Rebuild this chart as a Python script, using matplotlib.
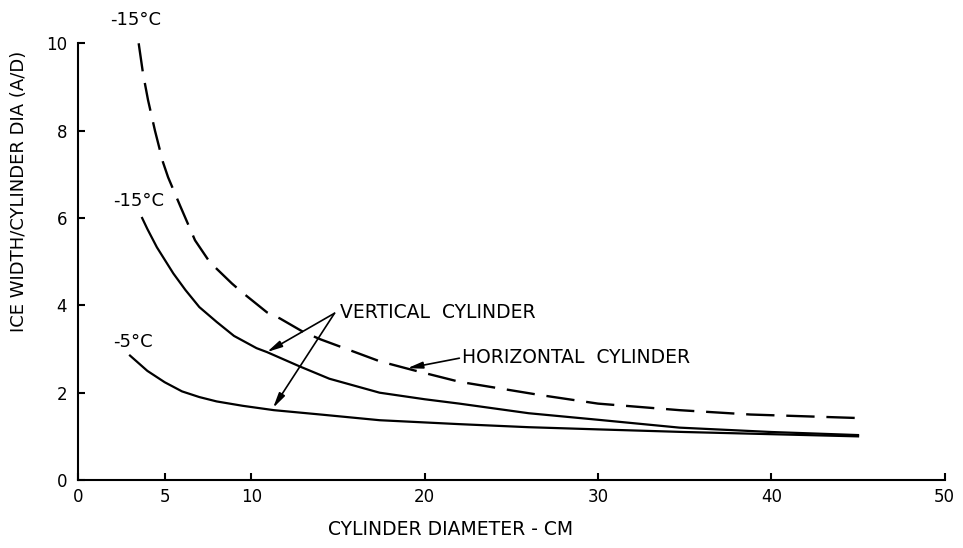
import numpy as np
import matplotlib
matplotlib.use("Agg")
import matplotlib.pyplot as plt

# horizontal cylinder, -15 C (dashed)
horiz_15_x = [3.5, 3.75, 4.04, 4.44, 4.9, 5.2, 5.88, 6.75, 7.6, 8.88, 9.46, 10.9, 11.65, 13.0, 14.0,
              15.5, 17.4, 19.3, 22.0, 26.6, 30.0, 34.7, 38.8, 45.0]
horiz_15_y = [10.0, 9.31, 8.7, 8.0, 7.28, 6.93, 6.29, 5.49, 4.99, 4.5, 4.3, 3.84, 3.7, 3.39, 3.22,
              3.0, 2.72, 2.52, 2.25, 1.95, 1.75, 1.6, 1.5, 1.42]

# vertical cylinder, -15 C
vert_15_x = [3.7, 4.0, 4.55, 5.5, 6.2, 7.0, 8.0, 9.0, 10.3, 10.9, 12.8, 14.5, 17.4, 20.0, 22.0,
             26.0, 30.0, 34.7, 40.0, 45.0]
vert_15_y = [6.0, 5.75, 5.33, 4.73, 4.35, 3.96, 3.62, 3.3, 3.02, 2.93, 2.6, 2.32, 2.0, 1.85, 1.75,
             1.53, 1.38, 1.2, 1.1, 1.03]

# vertical cylinder, -5 C
vert_5_x = [3.0, 4.0, 5.0, 6.0, 7.0, 8.0, 9.5, 11.3, 14.0, 17.4, 22.0, 26.0, 30.0, 35.0, 40.0, 45.0]
vert_5_y = [2.85, 2.5, 2.24, 2.03, 1.9, 1.8, 1.7, 1.6, 1.5, 1.37, 1.28, 1.21, 1.16, 1.1, 1.05, 1.0]

x_ticks = [0, 5, 10, 20, 30, 40, 50]
y_ticks = [0, 2, 4, 6, 8, 10]

fig = plt.figure(figsize=(9.63, 5.48), dpi=100)
ax = fig.add_axes([0.081, 0.124, 0.9, 0.797])

ax.plot(horiz_15_x, horiz_15_y, color='black', lw=1.7, dashes=(12, 5))
ax.plot(vert_15_x, vert_15_y, color='black', lw=1.6)
ax.plot(vert_5_x, vert_5_y, color='black', lw=1.6)

ax.set_xlim(0, 50)
ax.set_ylim(0, 10)
ax.set_xticks(x_ticks)
ax.set_yticks(y_ticks)
ax.spines['top'].set_visible(False)
ax.spines['right'].set_visible(False)
for s in ['left', 'bottom']:
    ax.spines[s].set_linewidth(1.5)
ax.tick_params(direction='in', length=5, width=1.5, labelsize=12)
ax.tick_params(axis='x', pad=6)
ax.tick_params(axis='y', pad=8)

ax.set_xlabel('CYLINDER DIAMETER - CM', fontsize=13.5)
ax.set_ylabel('ICE WIDTH/CYLINDER DIA (A/D)', fontsize=13)
ax.xaxis.set_label_coords(0.43, -0.092)
ax.yaxis.set_label_coords(-0.058, 0.66)

# curve labels
ax.text(1.85, 10.53, '-15°C', fontsize=13, va='center', clip_on=False)
ax.text(2.0, 6.4, '-15°C', fontsize=13, va='center')
ax.text(2.0, 3.16, '-5°C', fontsize=13, va='center')

# annotations
arrow = dict(arrowstyle='-|>,head_length=0.9,head_width=0.2', color='black', lw=1.2,
             shrinkA=0, shrinkB=0)
ax.annotate('', xy=(10.9, 2.93), xytext=(14.8, 3.82), arrowprops=arrow)
ax.annotate('', xy=(11.25, 1.65), xytext=(14.8, 3.82), arrowprops=arrow)
ax.text(15.1, 3.84, 'VERTICAL  CYLINDER', fontsize=13.5, va='center')
ax.annotate('', xy=(19.0, 2.56), xytext=(22.0, 2.79), arrowprops=arrow)
ax.text(22.15, 2.81, 'HORIZONTAL  CYLINDER', fontsize=13.5, va='center')

fig.savefig('out.png', dpi=100)
